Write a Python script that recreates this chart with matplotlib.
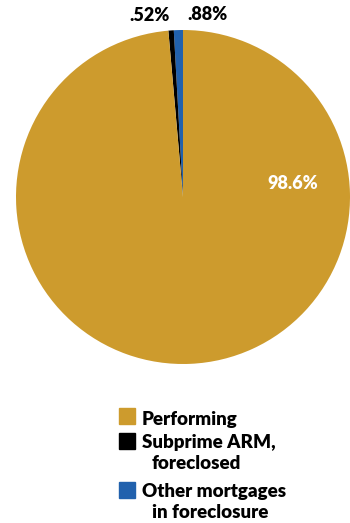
import matplotlib.pyplot as plt
import matplotlib.patches as mpatches

labels = ['Performing', 'Subprime ARM,\nforeclosed', 'Other mortgages\nin foreclosure']
values = [98.6, 0.52, 0.88]
colors = ['#CD9B2D', '#000000', '#2161AD']
pct_text = ['98.6%', '.52%', '.88%']

plt.rcParams['font.family'] = ['Lato', 'DejaVu Sans']
plt.rcParams['font.weight'] = 'heavy'

W, H = 350, 523
fig = plt.figure(figsize=(W / 100, H / 100), dpi=100)
ax = fig.add_axes([16/W, (H-364)/H, 334/W, 334/H])

# draw in order: other, subprime, performing, counterclockwise from top
order = [2, 1, 0]
wedges, _ = ax.pie([values[i] for i in order], colors=[colors[i] for i in order],
                   startangle=90, counterclock=True, radius=1.0)
ax.set_xlim(-1, 1)
ax.set_ylim(-1, 1)
ax.set_aspect('equal')

# percentage labels
ax.text(0.66, 0.08, pct_text[0], color='white', fontsize=13, ha='center', va='center')
ax.text(-0.20, 1.085, pct_text[1], color='black', fontsize=13, ha='center', va='center')
ax.text(0.145, 1.09, pct_text[2], color='black', fontsize=13, ha='center', va='center')

# legend, drawn by hand so squares line up with the first text line
box_top = [408, 433, 482]
first_base = [425, 448, 497]
line_gap = 21
for lab, c, top, base in zip(labels, colors, box_top, first_base):
    fig.add_artist(mpatches.Rectangle((119/W, 1 - (top + 16)/H), 16/W, 16/H,
                                      color=c, transform=fig.transFigure))
    for k, line in enumerate(lab.split('\n')):
        x = 142 if k == 0 else 152
        fig.text(x/W, 1 - (base + k*line_gap)/H, line, fontsize=13.5,
                 ha='left', va='baseline', color='black')

fig.savefig('out.png', dpi=100)
